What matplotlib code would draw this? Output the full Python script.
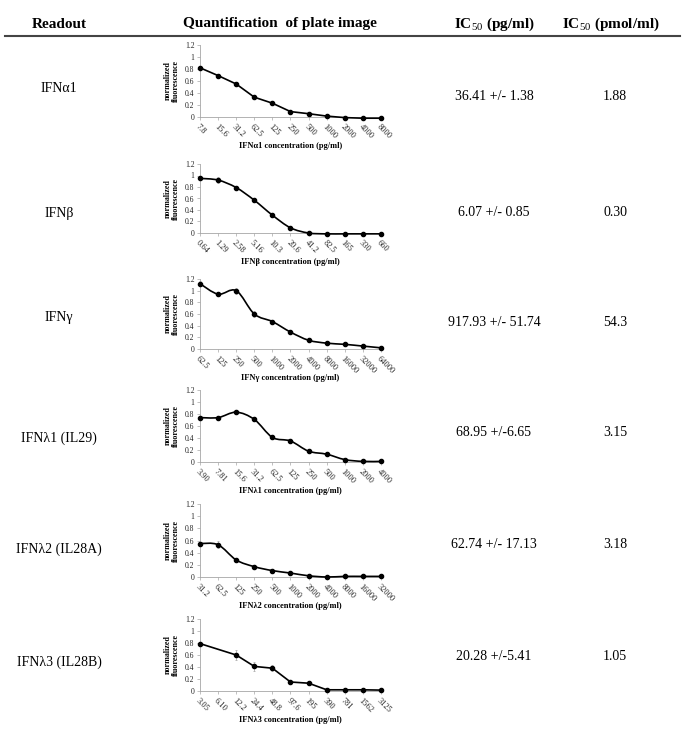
import numpy as np
import matplotlib.pyplot as plt
from matplotlib.path import Path
from matplotlib.patches import PathPatch

plt.rcParams['font.family'] = ['Liberation Serif', 'DejaVu Serif']
plt.rcParams['mathtext.fontset'] = 'custom'
plt.rcParams['mathtext.rm'] = 'Liberation Serif'
plt.rcParams['mathtext.bf'] = 'Liberation Serif:bold'

# table text
headers = ['Readout', 'Quantification  of plate image',
           r'IC$_{\mathrm{50}}$ (pg/ml)', r'IC$_{\mathrm{50}}$ (pmol/ml)']
readouts = ['IFNα1', 'IFNβ', 'IFNγ', 'IFNλ1 (IL29)', 'IFNλ2 (IL28A)', 'IFNλ3 (IL28B)']
ic50_pg = ['36.41 +/- 1.38', '6.07 +/- 0.85', '917.93 +/- 51.74',
           '68.95 +/-6.65', '62.74 +/- 17.13', '20.28 +/-5.41']
ic50_pmol = ['1.88', '0.30', '54.3', '3.15', '3.18', '1.05']
xlabels = ['IFNα1 concentration (pg/ml)', 'IFNβ concentration (pg/ml)',
           'IFNγ concentration (pg/ml)', 'IFNλ1 concentration (pg/ml)',
           'IFNλ2 concentration (pg/ml)', 'IFNλ3 concentration (pg/ml)']

# chart data
ifna1_x = ['7.8', '15.6', '31.2', '62.5', '125', '250', '500', '1000', '2000', '4000', '8000']
ifna1_y = [0.82, 0.69, 0.55, 0.33, 0.23, 0.09, 0.055, 0.015, -0.01, -0.02, -0.02]
ifna1_err = [0.02, 0.02, 0.02, 0.02, 0.02, 0.01, 0.01, 0.01, 0.01, 0.01, 0.01]

ifnb_x = ['0.64', '1.29', '2.58', '5.16', '10.3', '20.6', '41.2', '82.5', '165', '330', '660']
ifnb_y = [0.95, 0.92, 0.79, 0.57, 0.31, 0.09, 0.0, -0.015, -0.015, -0.015, -0.015]
ifnb_err = [0.02, 0.05, 0.03, 0.03, 0.03, 0.02, 0.01, 0.01, 0.01, 0.01, 0.01]

ifng_x = ['62.5', '125', '250', '500', '1000', '2000', '4000', '8000', '16000', '32000', '64000']
ifng_y = [1.12, 0.94, 1.0, 0.60, 0.47, 0.29, 0.15, 0.10, 0.08, 0.05, 0.02]
ifng_err = [0.04, 0.02, 0.05, 0.06, 0.03, 0.02, 0.02, 0.01, 0.01, 0.01, 0.01]

ifnl1_x = ['3.90', '7.81', '15.6', '31.2', '62.5', '125', '250', '500', '1000', '2000', '4000']
ifnl1_y = [0.74, 0.74, 0.83, 0.71, 0.41, 0.35, 0.18, 0.13, 0.04, 0.01, 0.01]
ifnl1_err = [0.02, 0.02, 0.03, 0.03, 0.03, 0.02, 0.02, 0.02, 0.01, 0.01, 0.01]

ifnl2_x = ['31.2', '62.5', '125', '250', '500', '1000', '2000', '4000', '8000', '16000', '32000']
ifnl2_y = [0.55, 0.53, 0.28, 0.17, 0.105, 0.065, 0.02, 0.0, 0.01, 0.01, 0.01]
ifnl2_err = [0.03, 0.06, 0.03, 0.02, 0.02, 0.01, 0.01, 0.01, 0.01, 0.01, 0.01]

ifnl3_x = ['3.05', '6.10', '12.2', '24.4', '48.8', '97.6', '195', '390', '781', '1562', '3125']
ifnl3_y = [0.79, None, 0.60, 0.41, 0.38, 0.15, 0.13, 0.02, 0.02, 0.02, 0.015]
ifnl3_err = [0.02, None, 0.08, 0.07, 0.05, 0.03, 0.02, 0.01, 0.01, 0.01, 0.01]

charts = [
    (ifna1_x, ifna1_y, ifna1_err, False),
    (ifnb_x, ifnb_y, ifnb_err, True),
    (ifng_x, ifng_y, ifng_err, True),
    (ifnl1_x, ifnl1_y, ifnl1_err, True),
    (ifnl2_x, ifnl2_y, ifnl2_err, True),
    (ifnl3_x, ifnl3_y, ifnl3_err, False),
]

W, H = 685, 731
fig = plt.figure(figsize=(W / 100, H / 100), dpi=100)

# header
hx = [59, 280, 494, 611]
for x, t in zip(hx, headers):
    fig.text(x / W, 1 - 24 / H, t, ha='center', va='center',
             fontsize=11, fontweight='bold')
fig.add_artist(plt.Line2D([5 / W, 680 / W], [1 - 36 / H, 1 - 36 / H],
                          color='#444444', lw=1.5))

label_y = [89, 213, 318, 438, 549, 662]
value_y = [97, 212, 323, 432, 544, 657]
for i in range(6):
    fig.text(59 / W, 1 - label_y[i] / H, readouts[i], ha='center', va='center', fontsize=10)
    fig.text(494 / W, 1 - value_y[i] / H, ic50_pg[i], ha='center', va='center', fontsize=10)
    fig.text(615 / W, 1 - value_y[i] / H, ic50_pmol[i], ha='center', va='center', fontsize=10)

# axes boxes (top, bottom) in pixels
boxes = [(45, 117), (164, 233), (279, 349), (390, 462), (504, 577), (619, 691)]


def smooth_path(xs, ys):
    pts = np.column_stack([xs, ys])
    verts = [pts[0]]
    codes = [Path.MOVETO]
    n = len(pts)
    for i in range(n - 1):
        p0 = pts[max(i - 1, 0)]
        p1 = pts[i]
        p2 = pts[i + 1]
        p3 = pts[min(i + 2, n - 1)]
        c1 = p1 + (p2 - p0) / 6
        c2 = p2 - (p3 - p1) / 6
        verts += [c1, c2, p2]
        codes += [Path.CURVE4] * 3
    return Path(verts, codes)


gray = '#a6a6a6'
for i, (cats, vals, errs, smooth) in enumerate(charts):
    top, bot = boxes[i]
    ax = fig.add_axes([200 / W, 1 - bot / H, 181 / W, (bot - top) / H])
    idx = [k for k, v in enumerate(vals) if v is not None]
    xs = np.array(idx, dtype=float)
    ys = np.array([vals[k] for k in idx])
    es = np.array([errs[k] for k in idx])
    ax.errorbar(xs, ys, yerr=es, fmt='none', ecolor='#b0b0b0', elinewidth=0.6,
                capsize=1, capthick=0.6, clip_on=False, zorder=2)
    if smooth:
        ax.add_patch(PathPatch(smooth_path(xs, ys), fill=False, lw=1.2,
                               edgecolor='black', clip_on=False, zorder=3))
        ax.plot(xs, ys, 'o', color='black', ms=3, clip_on=False, zorder=4)
    else:
        ax.plot(xs, ys, '-o', color='black', lw=1.2, ms=3, clip_on=False, zorder=4)

    ax.set_xlim(0, 10)
    ax.set_ylim(0, 1.2)
    ax.set_xticks(range(len(cats)))
    ax.set_xticklabels(cats, rotation=-45, ha='left', va='top',
                       rotation_mode='anchor', fontsize=6, color='#222222')
    ax.set_yticks([0, 0.2, 0.4, 0.6, 0.8, 1, 1.2])
    ax.set_yticklabels(['0', '0.2', '0.4', '0.6', '0.8', '1', '1.2'],
                       fontsize=5.5, color='#222222')
    ax.tick_params(axis='both', direction='out', length=2, width=0.5,
                   color=gray, pad=2)
    for s in ['top', 'right']:
        ax.spines[s].set_visible(False)
    for s in ['left', 'bottom']:
        ax.spines[s].set_color(gray)
        ax.spines[s].set_linewidth(0.6)
    ax.annotate(xlabels[i], xy=(0.5, 0), xycoords='axes fraction',
                xytext=(0, -29 * 0.72), textcoords='offset points',
                ha='center', va='center', fontsize=6, fontweight='bold')
    ax.annotate('normalized\nfluorescence', xy=(0, 0.5), xycoords='axes fraction',
                xytext=(-28 * 0.72, 0), textcoords='offset points',
                ha='center', va='center', fontsize=5.8, fontweight='bold',
                rotation=90, linespacing=1.05)

fig.savefig('out.png', dpi=100)
